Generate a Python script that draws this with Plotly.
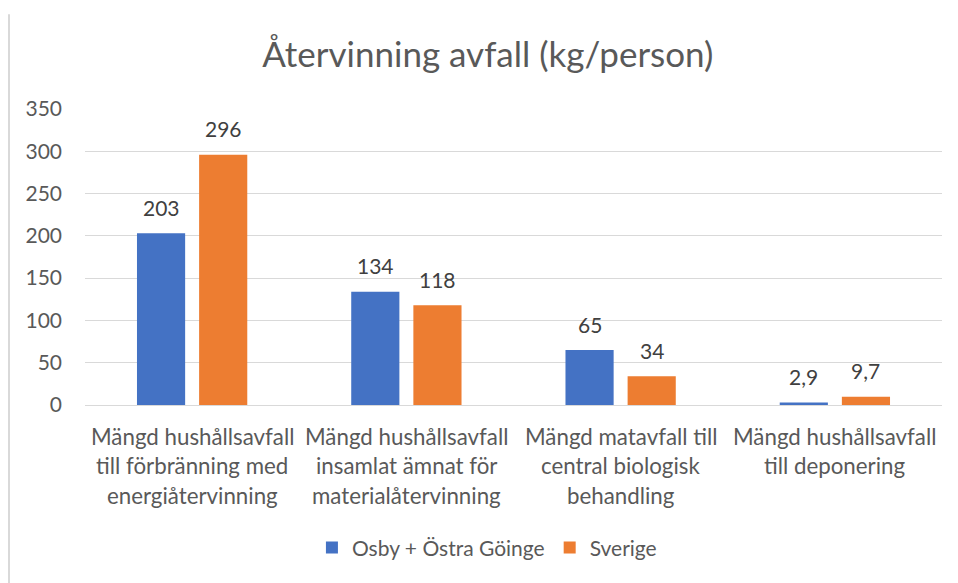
import plotly.graph_objects as go

categories = [
    "Mängd hushållsavfall<br>till förbränning med<br>energiåtervinning",
    "Mängd hushållsavfall<br>insamlat ämnat för<br>materialåtervinning",
    "Mängd matavfall till<br>central biologisk<br>behandling",
    "Mängd hushållsavfall<br>till deponering",
]
cat_ids = ["c1", "c2", "c3", "c4"]
osby = [203, 134, 65, 2.9]
sverige = [296, 118, 34, 9.7]
series_names = ["Osby + Östra Göinge", "Sverige"]
colors = ["#4472C4", "#ED7D31"]
yticks = [0, 50, 100, 150, 200, 250, 300, 350]

FONT = "Lato"
GREY = "#595959"

def fmt(v):
    s = f"{v:g}"
    return s.replace(".", ",")

fig = go.Figure()
for name, vals, col in zip(series_names, [osby, sverige], colors):
    fig.add_trace(go.Bar(x=cat_ids, y=vals, name=name, marker=dict(color=col, line=dict(width=0))))

annotations = []
# data labels
for vals, shift in [(osby, -31), (sverige, 31)]:
    for c, v in zip(cat_ids, vals):
        annotations.append(dict(x=c, y=v, xref="x", yref="y", text=fmt(v), showarrow=False,
                                xshift=shift, yanchor="middle", yshift=26,
                                font=dict(family=FONT, size=21, color="#404040")))
# category labels, line by line
for c, lab in zip(cat_ids, categories):
    for i, line in enumerate(lab.split("<br>")):
        annotations.append(dict(x=c, y=0, xref="x", yref="y", text=line, showarrow=False,
                                yanchor="middle", yshift=-31 - 29.5 * i,
                                font=dict(family=FONT, size=22.3, color=GREY)))

fig.update_layout(
    width=950, height=575,
    margin=dict(l=77, r=16, t=101, b=178, autoexpand=False),
    paper_bgcolor="white", plot_bgcolor="white",
    title=dict(text="Återvinning avfall (kg/person)", x=0.505, xanchor="center", y=0.918, yanchor="middle",
               font=dict(family=FONT, size=35, color=GREY), automargin=False),
    barmode="group", bargap=0.42, bargroupgap=0.225,
    xaxis=dict(showticklabels=False, showgrid=False, showline=True, linecolor="#D9D9D9", linewidth=1,
               ticks="", range=[-0.5, 3.5]),
    yaxis=dict(range=[0, 350], tickvals=yticks, showgrid=True, gridcolor="#D9D9D9", gridwidth=1,
               zeroline=False, ticks="", tickfont=dict(family=FONT, size=21, color=GREY),
               ticklabelstandoff=22, automargin=False),
    legend=dict(orientation="h", x=0.469, xanchor="center", y=-0.483, yanchor="middle",
                font=dict(family=FONT, size=21, color=GREY), itemwidth=30, traceorder="normal"),
    annotations=annotations,
    shapes=[dict(type="line", xref="paper", yref="paper", x0=-0.0887, x1=-0.0887, y0=1.32, y1=-0.7,
                 line=dict(color="#D9D9D9", width=2))],
)
fig.write_html("out.html")
